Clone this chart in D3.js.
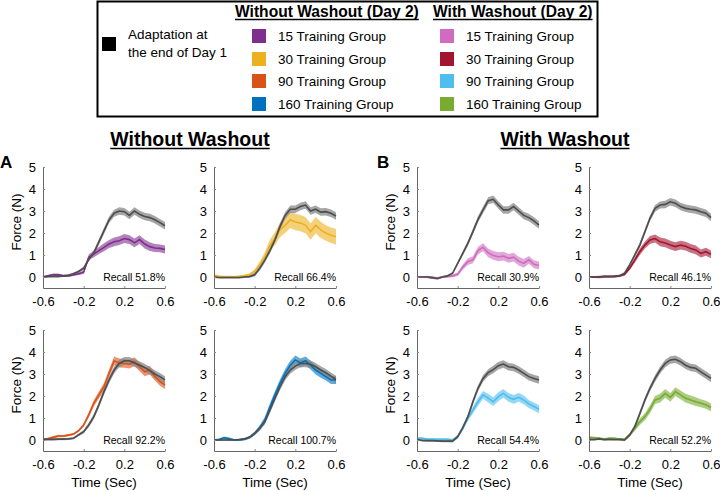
<!DOCTYPE html>
<html><head><meta charset="utf-8">
<script src="https://cdn.jsdelivr.net/npm/d3@7"></script>
<style>
body{margin:0;background:#fff}
svg{display:block}
text{font-family:"Liberation Sans",Arial,Helvetica,sans-serif;fill:#000}
</style>
</head><body>
<svg id="chart" width="720" height="490"></svg>
<script>
// ---------------- DATA ----------------
const time = [-0.6,-0.55,-0.5,-0.45,-0.4,-0.35,-0.3,-0.25,-0.2,-0.15,-0.1,-0.05,0,0.05,0.1,0.15,0.2,0.25,0.3,0.35,0.4,0.45,0.5,0.55,0.6];
const xTicks = [-0.6,-0.2,0.2,0.6];
const yTicks = [0,1,2,3,4,5];

// Without washout
const grayA15 = [0,0.02,0.03,0.03,0.05,0.08,0.15,0.25,0.4,0.8,1.1,1.6,2.1,2.6,2.9,3.0,2.97,2.8,3.0,2.85,2.75,2.7,2.6,2.47,2.33];
const meanA15 = [0,0.05,0.1,0.1,0.05,0.05,0.1,0.15,0.22,0.9,1.05,1.2,1.35,1.5,1.6,1.65,1.75,1.7,1.55,1.7,1.5,1.38,1.32,1.3,1.25];
const grayA30 = [0,-0.02,-0.02,-0.02,-0.02,-0.02,0,0.02,0.1,0.4,0.77,1.2,1.7,2.3,2.8,3.08,3.08,3.2,3.27,3.0,3.08,2.95,2.97,2.9,2.77];
const meanA30 = [0.08,0.02,0,0,0,0.02,0.05,0.1,0.25,0.55,0.92,1.45,1.75,2.15,2.35,2.6,2.5,2.45,2.36,2.06,2.36,2.14,2.0,1.9,1.83];
const grayA90 = [0.03,0.03,0.03,0.04,0.04,0.05,0.08,0.23,0.38,0.68,1.06,1.6,2.2,2.73,3.18,3.48,3.6,3.6,3.5,3.4,3.3,3.15,3.0,2.88,2.73];
const meanA90 = [0.02,0.06,0.12,0.18,0.18,0.22,0.27,0.42,0.68,1.14,1.67,2.05,2.42,3.03,3.6,3.5,3.48,3.45,3.56,3.33,3.1,3.18,2.88,2.65,2.5];
const grayA160 = [0,0,0,0,0,0.02,0.05,0.12,0.3,0.53,0.83,1.36,1.9,2.42,2.88,3.18,3.36,3.48,3.48,3.44,3.33,3.18,3.06,2.9,2.75];
const meanA160 = [0,0.02,0.1,0.05,0,0,0.03,0.12,0.3,0.55,0.9,1.5,2.05,2.58,3.03,3.4,3.64,3.5,3.6,3.4,3.18,3.03,2.88,2.73,2.73];
// With washout
const grayB15 = [0,0,0,-0.03,-0.07,0,0.05,0.17,0.62,1.07,1.53,2.06,2.62,3.05,3.47,3.53,3.27,3.05,3.05,3.2,3.0,2.8,2.7,2.55,2.36];
const meanB15 = [0,0,0,-0.03,-0.05,0,0.02,0.05,0.12,0.45,0.7,0.78,1.2,1.35,1.1,0.98,0.92,0.95,0.85,0.9,0.72,0.62,0.78,0.58,0.52];
const grayB30 = [0,0,0,0.02,0.02,0.03,0.05,0.17,0.55,1.0,1.45,2.06,2.67,3.12,3.27,3.3,3.42,3.35,3.2,3.12,3.08,3.05,2.97,2.9,2.7];
const meanB30 = [0,0,0,0.02,0.02,0.03,0.05,0.12,0.4,0.77,1.15,1.45,1.68,1.75,1.6,1.55,1.45,1.38,1.45,1.4,1.3,1.23,1.07,1.15,1.03];
const grayB90 = [0.03,-0.02,-0.03,-0.03,-0.04,-0.05,-0.05,-0.05,0.15,0.55,1.05,1.74,2.35,2.8,3.06,3.2,3.38,3.45,3.33,3.3,3.18,3.03,2.88,2.8,2.73];
const meanB90 = [0.08,0.08,0.03,0.03,0.03,0.03,0.03,0,0.15,0.55,1.0,1.36,1.74,2.05,1.9,1.74,1.97,2.12,1.94,1.85,1.94,1.82,1.64,1.52,1.4];
const grayB160 = [0.03,0.02,0.05,0.02,0.03,0.02,0.03,0,0.23,0.6,1.2,1.82,2.35,2.8,3.18,3.48,3.64,3.67,3.56,3.4,3.3,3.26,3.1,2.95,2.8];
const meanB160 = [0.12,0.1,0.08,0.03,0.08,0.08,0.03,0.03,0.23,0.53,0.83,1.06,1.4,1.82,1.9,2.12,1.94,2.2,2.05,1.9,1.82,1.74,1.67,1.6,1.48];

// standard-error half widths (shaded bands)
const seGray = [0.05,0.05,0.05,0.05,0.05,0.05,0.05,0.06,0.08,0.1,0.12,0.13,0.14,0.15,0.16,0.17,0.17,0.17,0.17,0.17,0.17,0.17,0.17,0.17,0.17];
const seNarrow = [0.05,0.05,0.06,0.06,0.05,0.05,0.05,0.06,0.08,0.12,0.15,0.16,0.18,0.18,0.2,0.2,0.2,0.2,0.2,0.2,0.2,0.2,0.18,0.18,0.18];
const seWide = [0.06,0.06,0.06,0.06,0.06,0.06,0.06,0.07,0.1,0.15,0.2,0.25,0.3,0.33,0.35,0.37,0.37,0.37,0.37,0.37,0.37,0.37,0.35,0.35,0.35];

const recallLabels = ["Recall 51.8%","Recall 66.4%","Recall 92.2%","Recall 100.7%","Recall 30.9%","Recall 46.1%","Recall 54.4%","Recall 52.2%"];
const groupNames = ["15 Training Group","30 Training Group","90 Training Group","160 Training Group"];
const colorsWithout = ["#7E2F8E","#EDB120","#D95319","#0072BD"];
const colorsWith = ["#CF6CC0","#A2142F","#4DBEEE","#77AC30"];

// ---------------- LAYOUT ----------------
const svg = d3.select("#chart");
const colX = [43, 214, 417, 589];
const rowTop = [167, 330];
const W = 122, H = 121;

const panels = [
  {col:0,row:0,gray:grayA15,mean:meanA15,se:seNarrow,color:colorsWithout[0],recall:recallLabels[0]},
  {col:1,row:0,gray:grayA30,mean:meanA30,se:seWide,color:colorsWithout[1],recall:recallLabels[1]},
  {col:0,row:1,gray:grayA90,mean:meanA90,se:seNarrow,color:colorsWithout[2],recall:recallLabels[2]},
  {col:1,row:1,gray:grayA160,mean:meanA160,se:seNarrow,color:colorsWithout[3],recall:recallLabels[3]},
  {col:2,row:0,gray:grayB15,mean:meanB15,se:seNarrow,color:colorsWith[0],recall:recallLabels[4]},
  {col:3,row:0,gray:grayB30,mean:meanB30,se:seNarrow,color:colorsWith[1],recall:recallLabels[5]},
  {col:2,row:1,gray:grayB90,mean:meanB90,se:seNarrow,color:colorsWith[2],recall:recallLabels[6]},
  {col:3,row:1,gray:grayB160,mean:meanB160,se:seNarrow,color:colorsWith[3],recall:recallLabels[7]}
];

panels.forEach(p => {
  const x0 = colX[p.col], y0 = rowTop[p.row];
  const x = d3.scaleLinear().domain([-0.6,0.6]).range([x0, x0+W]);
  const y = d3.scaleLinear().domain([-0.5,5]).range([y0+H, y0]);
  const g = svg.append("g");
  const area = (m) => d3.area().x((d,i)=>x(time[i])).y0((d,i)=>y(m[i]-d)).y1((d,i)=>y(m[i]+d));
  const line = d3.line().x((d,i)=>x(time[i])).y(d=>y(d));

  g.append("path").attr("d", area(p.mean)(p.se)).attr("fill", p.color).attr("fill-opacity",0.6);
  g.append("path").attr("d", area(p.gray)(seGray)).attr("fill", "#888").attr("fill-opacity",0.75);
  g.append("path").attr("d", line(p.mean)).attr("fill","none").attr("stroke",p.color).attr("stroke-width",1.6);
  g.append("path").attr("d", line(p.gray)).attr("fill","none").attr("stroke","#4d4d4d").attr("stroke-width",1.6);

  const ax = g.append("g").attr("transform",`translate(0,${y0+H})`)
    .call(d3.axisBottom(x).tickValues(xTicks).tickFormat(d3.format(".1f")).tickSizeInner(-2).tickSizeOuter(0).tickPadding(9));
  const ay = g.append("g").attr("transform",`translate(${x0},0)`)
    .call(d3.axisLeft(y).tickValues(yTicks).tickFormat(d3.format("d")).tickSizeInner(-2).tickSizeOuter(0).tickPadding(7));
  [ax, ay].forEach(a => {
    a.select(".domain").attr("stroke","#666");
    a.selectAll(".tick line").attr("stroke","#888");
    a.selectAll(".tick text").attr("font-size",13).attr("font-family","Liberation Sans, Arial, sans-serif").attr("fill","#000");
  });
  ax.selectAll(".tick text").text(d => d3.format(".1f")(d).replace("−","-"));

  g.append("text").attr("x", x0+W).attr("y", y(0)+4).attr("text-anchor","end")
    .attr("font-size",10.5).text(p.recall);

  if (p.col === 0 || p.col === 2) {
    g.append("text").attr("transform",`translate(${x0-22},${y(2.5)}) rotate(-90)`)
      .attr("text-anchor","middle").attr("font-size",13.5).text("Force (N)");
  }
  if (p.row === 1) {
    g.append("text").attr("x", x0+W/2).attr("y", 487).attr("text-anchor","middle")
      .attr("font-size",13.5).text("Time (Sec)");
  }
});

// section titles
function underlined(txt, x, y, size, anchor) {
  const t = svg.append("text").attr("x",x).attr("y",y).attr("text-anchor",anchor)
    .attr("font-size",size).attr("font-weight","bold").text(txt);
  const len = t.node().getComputedTextLength();
  const sx = anchor === "middle" ? x - len/2 : x;
  svg.append("line").attr("x1",sx).attr("x2",sx+len).attr("y1",y+2.5).attr("y2",y+2.5)
    .attr("stroke","#000").attr("stroke-width",1.5);
}
underlined("Without Washout", 190, 146, 19.5, "middle");
underlined("With Washout", 565, 146, 19.5, "middle");
svg.append("text").attr("x",0).attr("y",168).attr("font-size",17).attr("font-weight","bold").text("A");
svg.append("text").attr("x",377).attr("y",168).attr("font-size",17).attr("font-weight","bold").text("B");

// legend
svg.append("rect").attr("x",97.5).attr("y",1.5).attr("width",500).attr("height",115)
  .attr("fill","none").attr("stroke","#000").attr("stroke-width",2);
svg.append("rect").attr("x",102).attr("y",37).attr("width",14).attr("height",14).attr("fill","#000");
svg.append("text").attr("x",128).attr("y",39).attr("font-size",13.5).text("Adaptation at");
svg.append("text").attr("x",128).attr("y",57).attr("font-size",13.5).text("the end of Day 1");
underlined("Without Washout (Day 2)", 235, 17, 15.6, "start");
underlined("With Washout (Day 2)", 433, 17, 15.6, "start");
const legY = [29, 52, 74, 97];
groupNames.forEach((nm,i) => {
  svg.append("rect").attr("x",252).attr("y",legY[i]).attr("width",14).attr("height",14).attr("fill",colorsWithout[i]);
  svg.append("text").attr("x",278).attr("y",legY[i]+11.5).attr("font-size",13.5).text(nm);
  svg.append("rect").attr("x",440).attr("y",legY[i]).attr("width",14).attr("height",14).attr("fill",colorsWith[i]);
  svg.append("text").attr("x",466).attr("y",legY[i]+11.5).attr("font-size",13.5).text(nm);
});
</script>
</body></html>
